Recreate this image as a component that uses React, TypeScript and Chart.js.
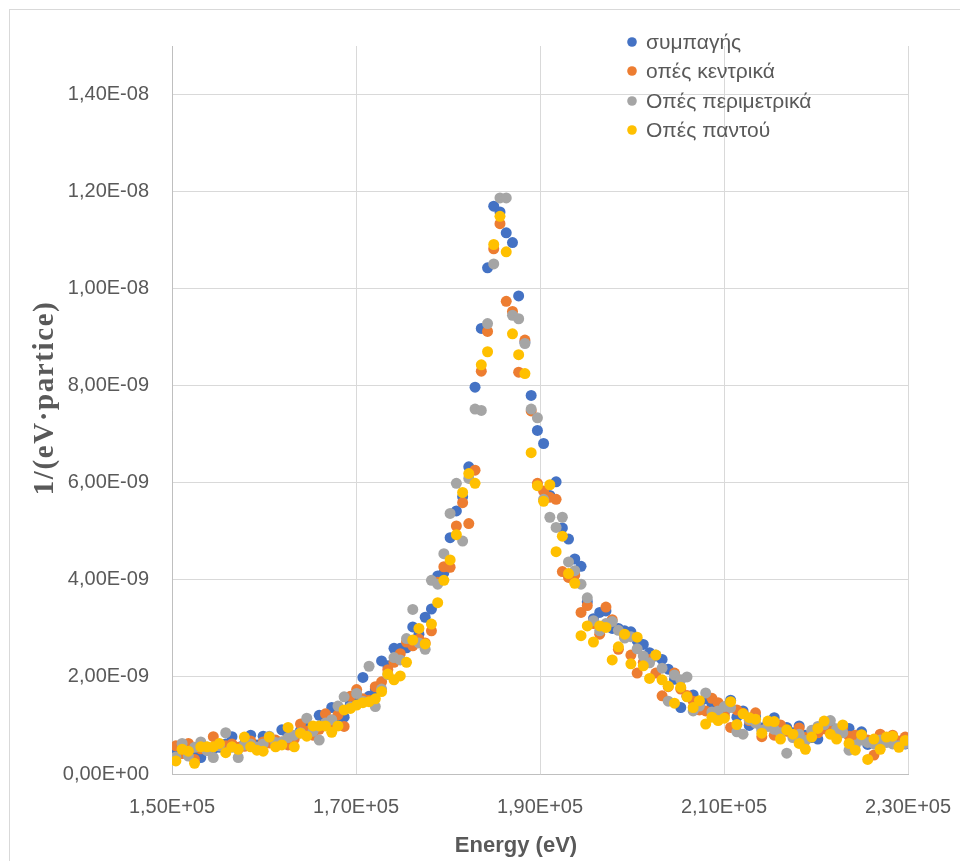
import React, { useEffect, useRef } from "react";
import { Chart, registerables } from "chart.js";

Chart.register(...registerables);

// Bin energies (keV)
const ENERGY_KEV = [
  150.42, 151.10, 151.78, 152.45, 153.13, 153.81, 154.49, 155.16, 155.84, 156.52,
  157.20, 157.87, 158.55, 159.23, 159.91, 160.58, 161.26, 161.94, 162.62, 163.29,
  163.97, 164.65, 165.33, 166.00, 166.68, 167.36, 168.04, 168.71, 169.39, 170.07,
  170.75, 171.42, 172.10, 172.78, 173.46, 174.13, 174.81, 175.49, 176.17, 176.84,
  177.52, 178.20, 178.88, 179.55, 180.23, 180.91, 181.59, 182.26, 182.94, 183.62,
  184.30, 184.97, 185.65, 186.33, 187.01, 187.68, 188.36, 189.04, 189.72, 190.39,
  191.07, 191.75, 192.43, 193.10, 193.78, 194.46, 195.14, 195.81, 196.49, 197.17,
  197.85, 198.52, 199.20, 199.88, 200.56, 201.23, 201.91, 202.59, 203.27, 203.94,
  204.62, 205.30, 205.98, 206.65, 207.33, 208.01, 208.69, 209.36, 210.04, 210.72,
  211.40, 212.07, 212.75, 213.43, 214.11, 214.78, 215.46, 216.14, 216.82, 217.49,
  218.17, 218.85, 219.53, 220.20, 220.88, 221.56, 222.24, 222.91, 223.59, 224.27,
  224.95, 225.62, 226.30, 226.98, 227.66, 228.33, 229.01, 229.69,
];

// Values in units of 1e-9 1/(eV·particle)
const SOLID = [
  0.42, 0.48, 0.52, 0.45, 0.34, 0.50, 0.52, 0.55, 0.62, 0.77,
  0.52, 0.62, 0.80, 0.60, 0.78, 0.72, 0.66, 0.91, 0.80, 0.78,
  0.90, 1.00, 0.97, 1.21, 1.10, 1.37, 1.18, 1.17, 1.45, 1.50,
  1.99, 1.60, 1.75, 2.33, 2.23, 2.59, 2.59, 2.60, 3.03, 2.88,
  3.23, 3.40, 4.08, 4.15, 4.87, 5.42, 5.71, 6.33, 7.97, 9.18,
  10.43, 11.70, 11.58, 11.15, 10.95, 9.85, 8.90, 7.80, 7.08, 6.81,
  5.74, 6.02, 5.07, 4.84, 4.43, 4.28, 3.55, 3.20, 3.33, 3.36,
  3.00, 3.00, 2.95, 2.93, 2.75, 2.67, 2.50, 2.43, 2.36, 2.16,
  1.95, 1.37, 1.60, 1.63, 1.45, 1.55, 1.45, 1.40, 1.28, 1.52,
  1.17, 1.30, 1.00, 1.18, 0.95, 1.05, 1.16, 0.92, 0.96, 0.85,
  0.99, 0.80, 0.75, 0.72, 0.97, 1.00, 0.85, 0.90, 0.94, 0.70,
  0.87, 0.61, 0.68, 0.60, 0.66, 0.70, 0.60, 0.62,
];

const CENTRAL = [
  0.58, 0.42, 0.63, 0.30, 0.52, 0.55, 0.77, 0.60, 0.58, 0.62,
  0.55, 0.57, 0.68, 0.55, 0.66, 0.64, 0.70, 0.66, 0.60, 0.72,
  1.03, 0.88, 0.80, 0.92, 1.24, 1.05, 1.22, 0.98, 1.60, 1.74,
  1.55, 1.52, 1.80, 1.90, 2.15, 2.30, 2.48, 2.72, 2.64, 2.78,
  2.70, 2.95, 3.95, 4.27, 4.26, 5.11, 5.59, 5.16, 6.26, 8.30,
  9.12, 10.82, 11.34, 9.74, 9.53, 8.28, 8.94, 7.48, 5.99, 5.83,
  5.70, 5.66, 4.17, 4.05, 4.10, 3.33, 3.47, 3.10, 2.88, 3.44,
  3.18, 2.57, 2.83, 2.45, 2.08, 2.30, 2.36, 2.08, 1.61, 1.80,
  2.08, 1.75, 1.62, 1.50, 1.32, 1.30, 1.56, 1.47, 1.20, 0.96,
  1.32, 1.25, 1.10, 1.26, 0.77, 1.00, 0.80, 1.01, 0.88, 0.80,
  0.95, 0.75, 0.80, 0.85, 0.93, 0.88, 0.80, 0.95, 0.78, 0.80,
  0.75, 0.70, 0.39, 0.82, 0.72, 0.80, 0.68, 0.76,
];

const PERIMETER = [
  0.35, 0.63, 0.37, 0.55, 0.66, 0.48, 0.34, 0.58, 0.85, 0.55,
  0.34, 0.60, 0.62, 0.55, 0.62, 0.78, 0.65, 0.66, 0.75, 0.80,
  0.85, 1.15, 0.88, 0.70, 1.05, 1.12, 1.40, 1.59, 1.38, 1.66,
  1.50, 2.22, 1.39, 1.75, 2.05, 2.40, 2.35, 2.79, 3.39, 2.70,
  2.57, 3.99, 3.91, 4.54, 5.37, 5.99, 4.80, 6.09, 7.52, 7.49,
  9.28, 10.51, 11.87, 11.87, 9.45, 9.38, 8.87, 7.52, 7.34, 5.66,
  5.29, 5.08, 5.29, 4.37, 4.19, 3.91, 3.63, 3.16, 2.95, 3.10,
  3.14, 2.96, 2.80, 2.83, 2.58, 2.43, 2.29, 2.45, 2.18, 1.50,
  2.04, 1.94, 2.00, 1.30, 1.40, 1.67, 1.28, 1.30, 1.39, 1.37,
  0.87, 0.82, 1.12, 1.05, 0.90, 0.98, 0.92, 0.85, 0.43, 0.75,
  0.82, 0.69, 0.90, 0.98, 1.02, 1.10, 0.93, 0.85, 0.49, 0.60,
  0.70, 0.65, 0.62, 0.70, 0.65, 0.62, 0.58, 0.63,
];

const EVERYWHERE = [
  0.27, 0.51, 0.47, 0.22, 0.56, 0.56, 0.56, 0.63, 0.44, 0.56,
  0.51, 0.76, 0.56, 0.49, 0.47, 0.76, 0.56, 0.60, 0.96, 0.56,
  0.84, 0.78, 0.99, 0.99, 0.99, 0.86, 0.99, 1.32, 1.35, 1.42,
  1.47, 1.49, 1.55, 1.70, 2.06, 1.94, 2.02, 2.30, 2.76, 3.00,
  2.68, 3.09, 3.53, 3.99, 4.41, 4.93, 5.80, 6.19, 5.99, 8.43,
  8.70, 10.91, 11.49, 10.76, 9.07, 8.64, 8.25, 6.62, 5.94, 5.62,
  5.96, 4.58, 4.90, 4.13, 3.93, 2.85, 3.05, 2.72, 3.05, 3.02,
  2.35, 2.62, 2.88, 2.27, 2.82, 2.23, 1.97, 2.45, 1.94, 1.81,
  1.46, 1.79, 1.59, 1.37, 1.51, 1.03, 1.17, 1.10, 1.15, 1.49,
  1.02, 1.24, 1.16, 1.13, 0.84, 1.09, 1.08, 0.72, 0.91, 0.82,
  0.63, 0.51, 0.76, 0.94, 1.09, 0.82, 0.72, 1.01, 0.63, 0.49,
  0.81, 0.30, 0.72, 0.51, 0.76, 0.78, 0.55, 0.69,
];

const SERIES_NAMES = ["συμπαγής", "οπές κεντρικά", "Οπές περιμετρικά", "Οπές παντού"];
const SERIES_COLORS = ["#4472C4", "#ED7D31", "#A5A5A5", "#FFC000"];
const SERIES_VALUES = [SOLID, CENTRAL, PERIMETER, EVERYWHERE];

const X_TICKS = [150000, 170000, 190000, 210000, 230000];
const Y_TICKS = [0, 2e-9, 4e-9, 6e-9, 8e-9, 1e-8, 1.2e-8, 1.4e-8];
const X_MIN = 150000;
const X_MAX = 230000;
const Y_MIN = 0;
const Y_MAX = 1.5e-8;
const VALUE_UNIT = 1e-9;
const KEV = 1000;

const X_TITLE = "Energy (eV)";
const Y_TITLE = "1/(eV·partice)";

const TEXT_COLOR = "#595959";
const SANS = "'Liberation Sans', Arial, sans-serif";
const SERIF = "'Liberation Serif', 'Times New Roman', serif";

function fmtSci(v: number): string {
  const [m, e] = v.toExponential(2).split("e");
  const exp = parseInt(e, 10);
  const sign = exp < 0 ? "-" : "+";
  return m.replace(".", ",") + "E" + sign + Math.abs(exp).toString().padStart(2, "0");
}

const decorPlugin = {
  id: "decor",
  beforeDraw(chart: any) {
    const ctx = chart.ctx;
    ctx.save();
    ctx.fillStyle = "#ffffff";
    ctx.fillRect(0, 0, chart.width, chart.height);
    ctx.strokeStyle = "#d9d9d9";
    ctx.lineWidth = 1;
    ctx.strokeRect(9.5, 9.5, 1200, 1200);
    ctx.restore();
  },
  afterDraw(chart: any) {
    const ctx = chart.ctx;
    ctx.save();
    // legend
    const rows = [42, 71, 101, 130];
    ctx.font = `21px ${SANS}`;
    ctx.textBaseline = "middle";
    ctx.textAlign = "left";
    SERIES_NAMES.forEach((name, i) => {
      ctx.fillStyle = SERIES_COLORS[i];
      ctx.beginPath();
      ctx.arc(632, rows[i], 4.8, 0, Math.PI * 2);
      ctx.fill();
      ctx.fillStyle = TEXT_COLOR;
      ctx.fillText(name, 646, rows[i] + 1);
    });
    // x title
    ctx.font = `bold 22px ${SANS}`;
    ctx.textAlign = "center";
    ctx.fillStyle = TEXT_COLOR;
    ctx.fillText(X_TITLE, 516, 846);
    // y title
    ctx.translate(46, 398);
    ctx.rotate(-Math.PI / 2);
    ctx.font = `bold 29px ${SERIF}`;
    try {
      (ctx as any).letterSpacing = "1.6px";
    } catch (e) {
      /* ignore */
    }
    ctx.fillText(Y_TITLE, 0, 0);
    ctx.restore();
  },
};

export default function App() {
  const ref = useRef<HTMLCanvasElement>(null);

  useEffect(() => {
    if (!ref.current) return;
    const datasets = SERIES_VALUES.map((vals, si) => ({
      label: SERIES_NAMES[si],
      data: vals.map((v, i) => ({ x: ENERGY_KEV[i] * KEV, y: v * VALUE_UNIT })),
      backgroundColor: SERIES_COLORS[si],
      borderColor: SERIES_COLORS[si],
      pointRadius: 5.5,
      pointHoverRadius: 5.5,
      pointBorderWidth: 0,
      showLine: false,
      order: 3 - si,
    }));

    const chart = new Chart(ref.current, {
      type: "scatter",
      data: { datasets },
      options: {
        animation: false,
        responsive: false,
        events: [],
        layout: { padding: { left: 0, top: 46, right: 52, bottom: 0 } },
        plugins: {
          legend: { display: false },
          tooltip: { enabled: false },
        },
        scales: {
          x: {
            type: "linear",
            min: X_MIN,
            max: X_MAX,
            afterBuildTicks: (s: any) => {
              s.ticks = X_TICKS.map((v) => ({ value: v }));
            },
            afterFit: (s: any) => {
              s.height = 87;
              s.paddingLeft = 0;
              s.paddingRight = 0;
            },
            ticks: {
              callback: (v: any) => fmtSci(Number(v)),
              font: { family: SANS, size: 20 },
              color: TEXT_COLOR,
              padding: 21,
              maxRotation: 0,
              autoSkip: false,
            },
            grid: { color: "#d9d9d9", lineWidth: 1, drawTicks: false },
            border: { color: "#bfbfbf", width: 1 },
          },
          y: {
            type: "linear",
            min: Y_MIN,
            max: Y_MAX,
            afterBuildTicks: (s: any) => {
              s.ticks = Y_TICKS.map((v) => ({ value: v }));
            },
            afterFit: (s: any) => {
              s.width = 172;
              s.paddingTop = 0;
              s.paddingBottom = 0;
            },
            ticks: {
              callback: (v: any) => fmtSci(Number(v)),
              font: { family: SANS, size: 20 },
              color: TEXT_COLOR,
              padding: 23,
              autoSkip: false,
            },
            grid: { color: "#d9d9d9", lineWidth: 1, drawTicks: false },
            border: { color: "#bfbfbf", width: 1 },
          },
        },
      },
      plugins: [decorPlugin],
    } as any);

    return () => chart.destroy();
  }, []);

  return (
    <div style={{ position: "absolute", left: 0, top: 0, width: 960, height: 861, background: "#fff" }}>
      <canvas ref={ref} width={960} height={861} style={{ display: "block" }} />
    </div>
  );
}
